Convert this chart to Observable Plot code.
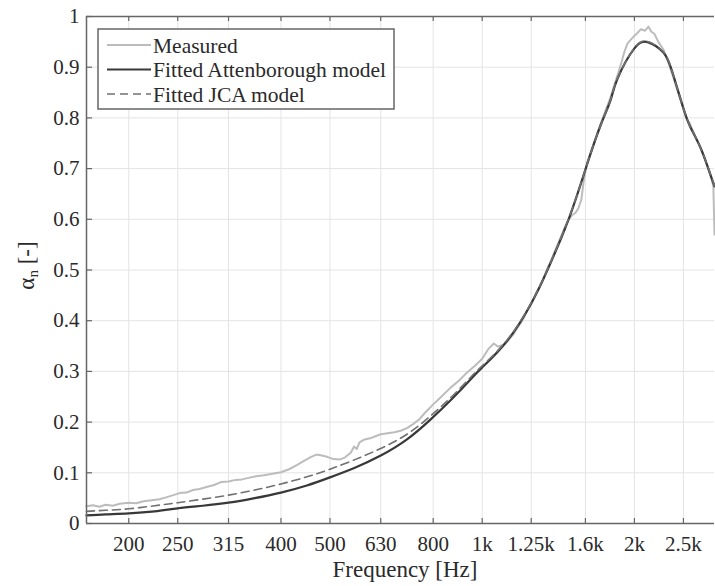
<!DOCTYPE html>
<html><head><meta charset="utf-8">
<script src="https://cdn.jsdelivr.net/npm/d3@7"></script>
<script src="https://cdn.jsdelivr.net/npm/@observablehq/plot@0.6"></script>
<style>
body{margin:0;background:#fff;}
#wrap{width:715px;height:586px;}
#wrap svg text, #wrap svg tspan{font-family:"Liberation Serif", serif !important;}
</style></head>
<body><div id="wrap"></div>
<script>
const xTicks = [200, 250, 315, 400, 500, 630, 800, 1000, 1250, 1600, 2000, 2500];
const xTickLabels = ["200", "250", "315", "400", "500", "630", "800", "1k", "1.25k", "1.6k", "2k", "2.5k"];
const yTicks = [0, 0.1, 0.2, 0.3, 0.4, 0.5, 0.6, 0.7, 0.8, 0.9, 1];
const xDomain = [165, 2880];

const measuredFreq = [165, 170, 175, 180, 186, 192, 200, 207, 214, 222, 230, 238, 245, 252, 260, 268, 276, 285, 295, 305, 315, 325, 335, 345, 357, 370, 385, 400, 415, 430, 445, 458, 470, 482, 495, 508, 522, 535, 550, 558, 565, 572, 583, 600, 615, 630, 650, 670, 690, 710, 730, 750, 770, 800, 830, 866, 900, 934, 970, 1000, 1030, 1054, 1075, 1100, 1122, 1150, 1174, 1200, 1225, 1250, 1275, 1300, 1325, 1346, 1370, 1400, 1430, 1455, 1482, 1505, 1530, 1550, 1570, 1590, 1608, 1640, 1680, 1714, 1750, 1793, 1830, 1853, 1880, 1910, 1938, 1970, 2000, 2030, 2060, 2100, 2132, 2160, 2190, 2230, 2282, 2330, 2378, 2440, 2511, 2540, 2570, 2600, 2650, 2700, 2750, 2800, 2840, 2865, 2880];
const measuredAlpha = [0.034, 0.036, 0.033, 0.037, 0.035, 0.039, 0.041, 0.040, 0.044, 0.046, 0.048, 0.052, 0.056, 0.060, 0.061, 0.066, 0.068, 0.072, 0.076, 0.082, 0.083, 0.086, 0.087, 0.090, 0.093, 0.095, 0.098, 0.101, 0.107, 0.115, 0.124, 0.131, 0.136, 0.134, 0.131, 0.127, 0.126, 0.130, 0.140, 0.152, 0.147, 0.160, 0.165, 0.168, 0.172, 0.176, 0.178, 0.180, 0.183, 0.188, 0.196, 0.205, 0.218, 0.235, 0.250, 0.268, 0.282, 0.298, 0.312, 0.325, 0.345, 0.355, 0.349, 0.352, 0.360, 0.372, 0.386, 0.400, 0.418, 0.433, 0.452, 0.466, 0.486, 0.503, 0.520, 0.543, 0.565, 0.583, 0.600, 0.608, 0.613, 0.622, 0.638, 0.680, 0.708, 0.732, 0.762, 0.788, 0.812, 0.840, 0.868, 0.885, 0.905, 0.930, 0.947, 0.955, 0.962, 0.968, 0.975, 0.972, 0.980, 0.970, 0.966, 0.950, 0.935, 0.912, 0.885, 0.850, 0.812, 0.796, 0.790, 0.778, 0.760, 0.742, 0.722, 0.700, 0.680, 0.665, 0.570];

const attenFreq = [165, 180, 200, 225, 250, 280, 315, 355, 400, 450, 500, 560, 630, 710, 790, 870, 950, 1000, 1122, 1250, 1346, 1482, 1608, 1714, 1793, 1853, 2000, 2132, 2282, 2378, 2511, 2600, 2700, 2800, 2880];
const attenAlpha = [0.016, 0.018, 0.020, 0.024, 0.030, 0.035, 0.041, 0.050, 0.061, 0.075, 0.091, 0.110, 0.134, 0.166, 0.205, 0.245, 0.285, 0.308, 0.361, 0.434, 0.500, 0.600, 0.705, 0.785, 0.834, 0.878, 0.937, 0.949, 0.929, 0.890, 0.813, 0.775, 0.742, 0.700, 0.665];

const jcaFreq = [165, 180, 200, 225, 250, 280, 315, 355, 400, 450, 500, 560, 630, 710, 790, 870, 950, 1000, 1122, 1250, 1346, 1482, 1608, 1714, 1793, 1853, 2000, 2132, 2282, 2378, 2511, 2600, 2700, 2800, 2880];
const jcaAlpha = [0.024, 0.026, 0.029, 0.035, 0.041, 0.048, 0.056, 0.066, 0.078, 0.092, 0.107, 0.126, 0.148, 0.176, 0.212, 0.250, 0.289, 0.311, 0.363, 0.435, 0.501, 0.601, 0.705, 0.785, 0.835, 0.879, 0.938, 0.950, 0.930, 0.890, 0.813, 0.776, 0.742, 0.701, 0.666];

const legendLabels = ["Measured", "Fitted Attenborough model", "Fitted JCA model"];

const measured = measuredFreq.map((f, i) => ({f, a: measuredAlpha[i]}));
const atten = attenFreq.map((f, i) => ({f, a: attenAlpha[i]}));
const jca = jcaFreq.map((f, i) => ({f, a: jcaAlpha[i]}));

const W = 715, H = 586, mL = 86, mR = 1, mT = 16, mB = 63;
const pw = W - mL - mR, ph = H - mT - mB;
const axisColor = "#666";
const textColor = "#2a2a2a";
const cMeas = "#bcbcbc", cAtt = "#383838", cJca = "#707070";
const gridColor = "#e4e4e4";

const chart = Plot.plot({
  width: W, height: H,
  marginLeft: mL, marginRight: mR, marginTop: mT, marginBottom: mB,
  style: {fontSize: "21px", color: textColor, background: "#fff"},
  x: {type: "log", domain: xDomain},
  y: {domain: [0, 1]},
  marks: [
    Plot.ruleX(xTicks, {stroke: gridColor}),
    Plot.ruleY(yTicks, {stroke: gridColor}),
    Plot.line(measured, {x: "f", y: "a", stroke: cMeas, strokeWidth: 2}),
    Plot.line(atten, {x: "f", y: "a", stroke: cAtt, strokeWidth: 2.2, curve: "natural"}),
    Plot.line(jca, {x: "f", y: "a", stroke: cJca, strokeWidth: 1.6, strokeDasharray: "8,5", curve: "natural"}),
    Plot.ruleY([0, 1], {stroke: axisColor, strokeWidth: 1.5}),
    Plot.ruleX([xDomain[0]], {stroke: axisColor, strokeWidth: 1.5}),
    Plot.tickX(xTicks, {x: d => d, stroke: axisColor, strokeWidth: 1.2, insetTop: ph - 5}),
    Plot.tickX(xTicks, {x: d => d, stroke: axisColor, strokeWidth: 1.2, insetBottom: ph - 5}),
    Plot.tickY(yTicks, {y: d => d, stroke: axisColor, strokeWidth: 1.2, insetRight: pw - 6}),
    Plot.axisX({ticks: xTicks, tickSize: 0, tickPadding: 13, tickFormat: d => xTickLabels[xTicks.indexOf(d)], label: null}),
    Plot.axisY({ticks: yTicks, tickSize: 0, tickPadding: 7, tickFormat: d => String(d), label: null})
  ]
});
document.getElementById("wrap").appendChild(chart);

const svg = d3.select(chart);
svg.append("text").attr("x", mL + pw / 2 + 5).attr("y", 577).attr("text-anchor", "middle")
  .attr("font-size", 23).attr("fill", textColor).text("Frequency [Hz]");
const yl = svg.append("text").attr("transform", "translate(34," + (mT + ph / 2 - 4) + ") rotate(-90)")
  .attr("text-anchor", "middle").attr("font-size", 23).attr("fill", textColor);
yl.append("tspan").text("α");
yl.append("tspan").attr("font-size", 15).attr("dy", 4).text("n");
yl.append("tspan").attr("dy", -4).text(" [-]");

// legend
const lg = svg.append("g").attr("transform", "translate(98,29)");
lg.append("rect").attr("width", 296).attr("height", 80).attr("fill", "#fff").attr("stroke", axisColor).attr("stroke-width", 1.5);
const lstyles = [
  {stroke: cMeas, w: 2, dash: null},
  {stroke: cAtt, w: 2.2, dash: null},
  {stroke: cJca, w: 1.6, dash: "8,5"}
];
legendLabels.forEach((t, i) => {
  const y = 16 + i * 24.5;
  const s = lstyles[i];
  const ln = lg.append("line").attr("x1", 9).attr("x2", 53).attr("y1", y).attr("y2", y)
    .attr("stroke", s.stroke).attr("stroke-width", s.w);
  if (s.dash) ln.attr("stroke-dasharray", s.dash);
  lg.append("text").attr("x", 55).attr("y", y).attr("dy", "0.35em").attr("text-anchor", "start")
    .attr("font-size", 21.5).attr("fill", textColor).text(t);
});
</script>
</body></html>
